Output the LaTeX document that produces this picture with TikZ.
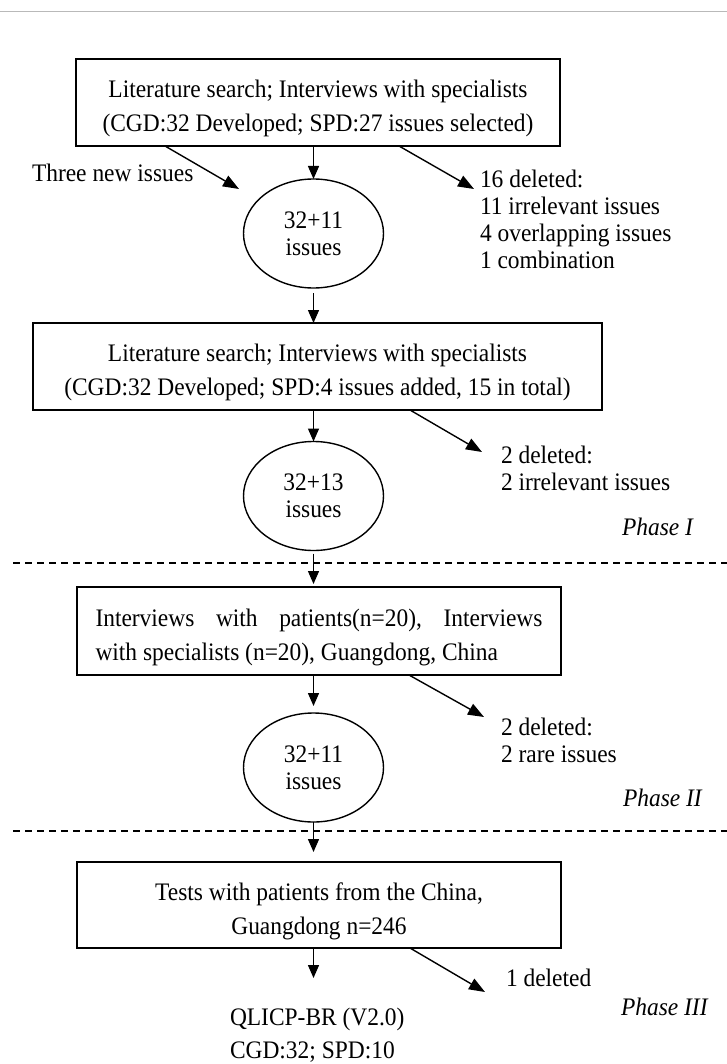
\documentclass[tikz,border=0pt]{standalone}
\usepackage{fontspec}
\setmainfont[FakeStretch=0.93]{Liberation Serif}
\usetikzlibrary{shapes.geometric,arrows.meta}
\newcommand\myTopStrut{\rule{0pt}{30pt}}
\begin{document}
\begin{tikzpicture}[x=1pt,y=-1pt,
  every node/.style={inner sep=0pt, outer sep=0pt, font=\fontsize{25.2pt}{27pt}\selectfont},
  stagebox/.style={draw, line width=1.6pt, minimum height=87pt, align=center, font=\fontsize{25.2pt}{34pt}\selectfont},
  pool/.style={draw, ellipse, line width=1.4pt, minimum width=140pt, minimum height=109pt, align=center},
  note/.style={align=left, anchor=north west},
  single/.style={anchor=west},
  phase/.style={anchor=west, font=\fontsize{25.2pt}{27pt}\selectfont\itshape},
  arr/.style={line width=1.4pt, -{Triangle[length=13pt,width=11pt]}},
  darr/.style={line width=1.4pt, -{Triangle[length=16pt,width=12pt]}},
  sep/.style={line width=1.4pt, dash pattern=on 7pt off 5pt}]
\useasboundingbox (0,0) rectangle (727,1064);
\draw[gray!55, line width=1pt] (0,11.7) -- (727,11.7);

% boxes
\node[stagebox, minimum width=484pt] (box1) at (318,102.5)
  {\myTopStrut Literature search; Interviews with specialists\\(CGD:32 Developed; SPD:27 issues selected)};
\node[stagebox, minimum width=569pt] (box2) at (317.5,366.5)
  {\myTopStrut Literature search; Interviews with specialists\\(CGD:32 Developed; SPD:4 issues added, 15 in total)};
\node[stagebox, minimum width=484pt, minimum height=88pt, align=left] (box3) at (319,631)
  {\hbox to 447pt{\myTopStrut Interviews\hfill with\hfill patients(n=20),\hfill Interviews}\\with specialists (n=20), Guangdong, China};
\node[stagebox, minimum width=484pt, minimum height=86pt] (box4) at (319,905)
  {\myTopStrut Tests with patients from the China,\\Guangdong n=246};

% pools
\node[pool] (c1) at (313.5,233.5) {32+11\\issues};
\node[pool] (c2) at (313.5,496) {32+13\\issues};
\node[pool] (c3) at (313.5,767.5) {32+11\\issues};

% notes
\node[single] (three) at (32,173) {Three new issues};
\node[note] (del1) at (480,170) {16 deleted:\\11 irrelevant issues\\4 overlapping issues\\1 combination};
\node[note] (del2) at (501,446) {2 deleted:\\2 irrelevant issues};
\node[note] (del3) at (501,718) {2 deleted:\\2 rare issues};
\node[single] (del4) at (506,978) {1 deleted};
\node[note, font=\fontsize{25.2pt}{33pt}\selectfont] (final) at (230,1008) {QLICP-BR (V2.0)\\CGD:32; SPD:10};

% phases
\node[phase] (ph1) at (622,527) {Phase I};
\node[phase] (ph2) at (623,798) {Phase II};
\node[phase] (ph3) at (621,1007) {Phase III};

% separators
\draw[sep] (13,563) -- (727,563);
\draw[sep] (13,831) -- (727,831);

% vertical arrows
\draw[arr] (c1.north |- box1.south) -- (c1.north);
\draw[arr, shorten <=5pt] (c1.south) -- (c1.south |- box2.north);
\draw[arr] (c2.north |- box2.south) -- (c2.north);
\draw[arr, shorten <=3pt, shorten >=3pt] (c2.south) -- (c2.south |- box3.north);
\draw[arr, shorten >=7pt] (c3.north |- box3.south) -- (c3.north);
\draw[arr, shorten >=10pt] (c3.south) -- (c3.south |- box4.north);
\draw[arr, shorten >=30pt] (box4.south -| c3.south) -- (final.north -| c3.south);

% diagonal arrows
\coordinate (t0) at (239,189);
\coordinate (t1) at (474,189);
\coordinate (t2) at (482,452);
\coordinate (t3) at (484,717);
\coordinate (t4) at (485,992);
\draw[darr] ([xshift=-153pt]box1.south) -- (t0);
\draw[darr] ([xshift=81pt]box1.south) -- (t1);
\draw[darr] ([xshift=92.5pt]box2.south) -- (t2);
\draw[darr] ([xshift=90pt]box3.south) -- (t3);
\draw[darr] ([xshift=91pt]box4.south) -- (t4);
\end{tikzpicture}
\end{document}
